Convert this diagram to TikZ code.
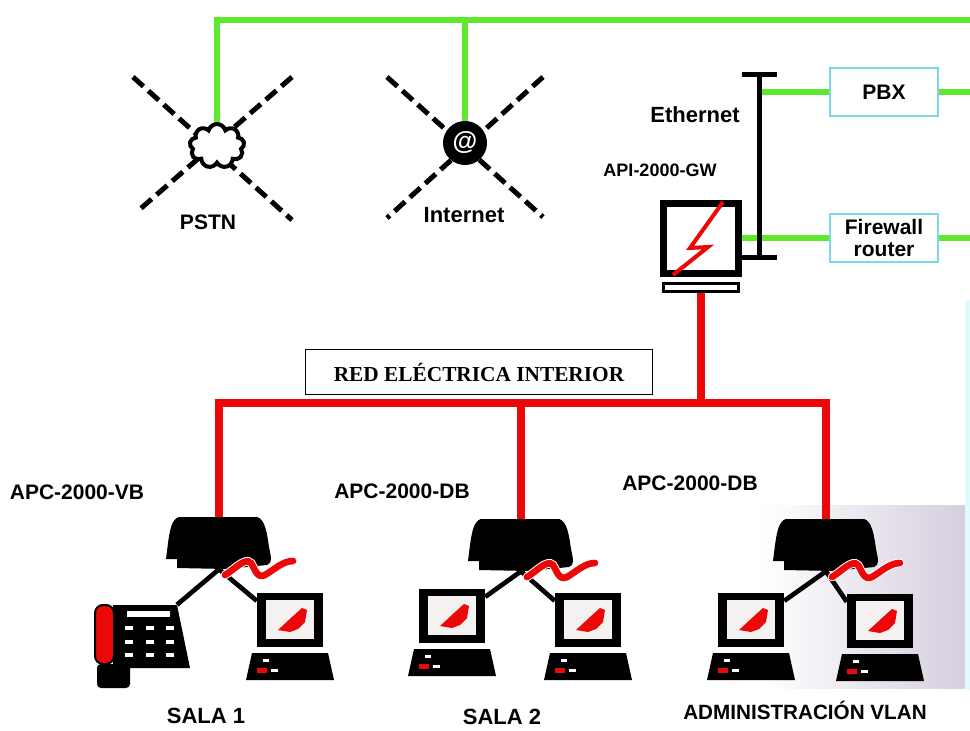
\documentclass[tikz,border=0pt]{standalone}
\usepackage{fontspec}
\setmainfont{Liberation Sans}
\newfontfamily\redfont{Liberation Serif}
\usetikzlibrary{positioning,shapes.symbols}
\definecolor{netgreen}{RGB}{95,232,45}
\definecolor{netred}{RGB}{236,8,8}
\definecolor{boxcyan}{RGB}{125,215,230}
\definecolor{hazecyan}{RGB}{226,250,253}
\definecolor{admgray}{RGB}{214,206,222}
\definecolor{screenbg}{RGB}{246,241,241}

\begin{document}
\begin{tikzpicture}[x=.75pt,y=-.75pt,line join=miter,
    lbl/.style={font=\bfseries\fontsize{15.75}{18}\selectfont,inner sep=0pt},
    biglbl/.style={font=\bfseries\fontsize{16.5}{19}\selectfont,inner sep=0pt},
    gline/.style={draw=netgreen,line width=4.5pt},
    rline/.style={draw=netred,line width=5.5pt},
    link/.style={draw=black,line width=3.5pt},
    xdash/.style={draw=black,line width=3.75pt,dash pattern=on 10.5pt off 5pt},
    srvbox/.style={draw=boxcyan,line width=1.5pt,minimum width=81pt,minimum height=36pt,
      font=\bfseries\fontsize{15.75}{16.5}\selectfont,align=center,inner sep=0pt},
    modembox/.style={minimum width=79.5pt,minimum height=39pt,inner sep=0pt},
    screenbox/.style={minimum width=49.5pt,minimum height=40.5pt,inner sep=0pt},
    pics/modem/.style={code={
      \fill[black] (-40,-26) -- (38,-26) .. controls (46,-24) and (48,-10) .. (50,4)
        .. controls (52,14) and (54,20) .. (48,22) -- (8,26) -- (-42,25) -- (-42,16)
        -- (-53,16) -- (-51,0) .. controls (-49,-14) and (-47,-24) .. (-40,-26) -- cycle;
      \draw[white,line width=6.5pt,line cap=round] (6,32) .. controls (16,26) and (26,14) .. (32,20)
        .. controls (36,26) and (38,36) .. (46,32) .. controls (56,26) and (64,18) .. (74,18);
      \draw[netred,line width=5pt,line cap=round] (6,32) .. controls (16,26) and (26,14) .. (32,20)
        .. controls (36,26) and (38,36) .. (46,32) .. controls (56,26) and (64,18) .. (74,18);
    }},
    pics/laptop/.style={code={
      \fill[black] (-33,-27) rectangle (33,27);
      \fill[screenbg] (-24,-20) rectangle (24,19);
      \fill[netred] (-12,10) -- (2,-3) -- (12,-12) -- (17,-10) -- (15,2) -- (8,9) -- (0,12) -- cycle;
      \fill[black] (-38,33) -- (38,33) -- (44,60) -- (-44,60) -- cycle;
      \fill[netred] (-33,48) rectangle (-23,53);
      \fill[white] (-19,49) rectangle (-12,52);
      \fill[white] (-27,39) rectangle (-21,42);
    }},
    pics/phone/.style={code={
      \fill[black] (-29,-35) -- (35,-35) -- (48,28) -- (-29,28) -- cycle;
      \fill[white] (-15,-29) rectangle (28,-23);
      \foreach \kx in {-13,8,28}
        \foreach \ky in {-12,2,15}
          \fill[white] (\kx-4,\ky-2) rectangle (\kx+4,\ky+2);
      \fill[black,rounded corners=3pt] (-45,24) rectangle (-12,48);
      \filldraw[fill=netred,draw=black,line width=1.5pt,rounded corners=6pt] (-47,-35) rectangle (-28,24);
    }}]

  \useasboundingbox (0,0) rectangle (970,731);

  % faint background behind the admin room
  \shade[left color=white,right color=admgray] (760,505) rectangle (965,688);
  \fill[hazecyan] (965,300) rectangle (970,690);

  % PSTN and Internet clouds
  \draw[xdash] (133,77) -- (292,220);
  \draw[xdash] (292,77) -- (139,210);
  \draw[xdash] (387,77) -- (543,217);
  \draw[xdash] (543,77) -- (387,218);
  \node[cloud,cloud puffs=9,draw,line width=3pt,fill=white,minimum width=41pt,minimum height=33pt,
    inner sep=0pt] (pstn) at (217,146) {};
  \node[circle,fill=black,minimum size=33pt,inner sep=0pt,text=white,
    font=\bfseries\fontsize{19}{19}\selectfont] (inet) at (465,143) {@};
  \node[lbl] (pstnlbl) at (208,222) {PSTN};
  \node[biglbl] (inetlbl) at (464,215) {Internet};

  % gateway, ethernet segment, PBX, firewall
  \node[font=\bfseries\fontsize{13.5}{15}\selectfont,inner sep=0pt] (gwlbl) at (660,170) {API-2000-GW};
  \node[draw,line width=5.25pt,fill=white,minimum width=56pt,minimum height=52.5pt,inner sep=0pt]
    (gw) at (701,238) {};
  \node[draw,line width=2.25pt,minimum width=56pt,minimum height=6pt,inner sep=0pt,below=4pt of gw]
    (gwbase) {};
  \draw[netred,line width=3pt] (gw.center) ++(22,-36) -- ++(-33,46) -- ++(18,-1) -- ++(-35,28);

  \coordinate (ethT) at (759,75);
  \coordinate (ethB) at (759,257);
  \coordinate (gbus) at (970,20);
  \node[srvbox] (pbx) at (884,92) {PBX};
  \node[srvbox] (fw) at (884,238) {Firewall\\router};
  \node[biglbl] (ethlbl) at (695,115) {Ethernet};

  \draw[gline] (pstn.north) |- (gbus);
  \draw[gline] (inet.north) -- (inet.north |- gbus);
  \draw[gline] (ethT |- pbx.west) -- (pbx.west);
  \draw[gline] (pbx.east) -- (pbx.east -| gbus);
  \draw[gline] (gw.east |- fw.west) -- (fw.west);
  \draw[gline] (fw.east) -- (fw.east -| gbus);

  \draw[black,line width=3.75pt] (ethT) -- (ethB);
  \draw[black,line width=3.75pt] ([xshift=-12.5pt]ethT) -- ([xshift=13.5pt]ethT);
  \draw[black,line width=3.75pt] ([xshift=-12.5pt]ethB) -- ([xshift=13.5pt]ethB);

  % indoor power line network
  \node[draw,line width=1.2pt,minimum width=260pt,minimum height=33.75pt,inner sep=0pt,
    font=\redfont\bfseries\fontsize{16}{18}\selectfont] (rei) at (479,372) {RED ELÉCTRICA INTERIOR};

  \node[modembox] (m1) at (219,543) {};
  \node[modembox] (m2) at (521,545) {};
  \node[modembox] (m3) at (826,545) {};
  \node[minimum width=72pt,minimum height=52.5pt,inner sep=0pt] (ph) at (142,640) {};
  \node[screenbox] (p1) at (290,620) {};
  \node[screenbox] (p2a) at (452,616) {};
  \node[screenbox] (p2b) at (588,620) {};
  \node[screenbox] (p3a) at (751,620) {};
  \node[screenbox] (p3b) at (880,621) {};

  \coordinate (rbus) at (0,403);
  \draw[rline] (gwbase.south) -- (gwbase.south |- rbus);
  \draw[rline] (m1.north) -- (m1.north |- rbus) -- (m3.north |- rbus) -- (m3.north);
  \draw[rline] (m2.north) -- (m2.north |- rbus);

  \draw[link] (m1.south) -- ([xshift=-10pt]ph.north east);
  \draw[link] (m1.south) -- (p1.150);
  \draw[link] (m2.south) -- (p2a.30);
  \draw[link] (m2.south) -- (p2b.150);
  \draw[link] (m3.south) -- (p3a.30);
  \draw[link] (m3.south) -- (p3b.150);

  \pic at (ph) {phone};
  \foreach \pc in {p1,p2a,p2b,p3a,p3b}
    \pic at (\pc) {laptop};
  \foreach \md in {m1,m2,m3}
    \pic at (\md) {modem};

  % labels
  \node[lbl] (apc1) at (77,492) {APC-2000-VB};
  \node[lbl] (apc2) at (402,491) {APC-2000-DB};
  \node[lbl] (apc3) at (690,483) {APC-2000-DB};
  \node[biglbl] (sala1) at (206,716) {SALA 1};
  \node[biglbl] (sala2) at (502,717) {SALA 2};
  \node[font=\bfseries\fontsize{15.5}{18}\selectfont,inner sep=0pt] (adm) at (805,710) {ADMINISTRACIÓN VLAN};
\end{tikzpicture}
\end{document}
